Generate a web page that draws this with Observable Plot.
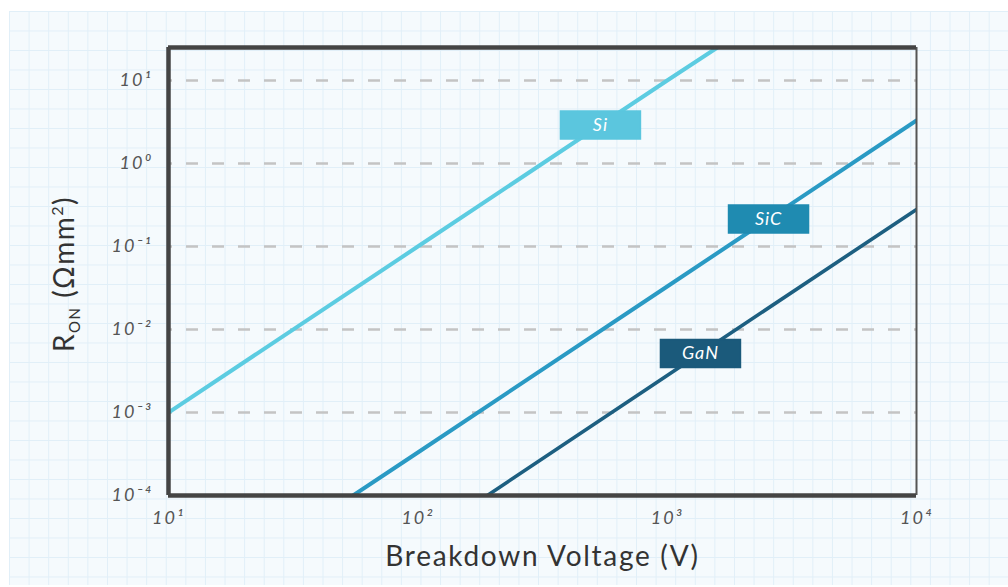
<!DOCTYPE html>
<html>
<head>
<meta charset="utf-8">
<script src="https://cdn.jsdelivr.net/npm/d3@7"></script>
<script src="https://cdn.jsdelivr.net/npm/@observablehq/plot@0.6"></script>
<style>
  html, body { margin: 0; padding: 0; background: #ffffff; width: 1008px; height: 587px; overflow: hidden; }
  #paper {
    position: absolute; left: 9px; top: 11px; width: 999px; height: 574px;
    background-color: #f5fafd;
    background-image:
      linear-gradient(to right, #e1eff8 1px, transparent 1px),
      linear-gradient(to bottom, #e1eff8 1px, transparent 1px);
    background-size: 19.6px 19.5px;
    background-position: 0 0;
  }
  #chart { position: absolute; left: 0; top: 0; }
</style>
</head>
<body>
<div id="paper"></div>
<div id="chart"></div>
<script>
// ---- data ----
const xTicks = [10, 100, 1000, 10000];
const yTicks = [1e-4, 1e-3, 1e-2, 1e-1, 1, 10];
const gridTicks = [1e-3, 1e-2, 1e-1, 1, 10];
const xDomain = [10, 10000];
const yDomain = [1e-4, 25];

const seriesNames = ["Si", "SiC", "GaN"];
const siV  = [10, 100, 1000, 1590];
const siR  = [1e-3, 0.1, 10, 25];
const sicV = [55, 100, 1000, 10000];
const sicR = [1e-4, 3.3e-4, 0.033, 3.3];
const ganV = [190, 1000, 10000];
const ganR = [1e-4, 2.8e-3, 0.28];

const labelV = [540, 2550, 1360];
const labelR = [2.92, 0.215, 5.15e-3];

const lineColors = ["#5ccce1", "#2a9ac4", "#1d5f81"];
const boxColors  = ["#5bc6de", "#1f8bb1", "#1b5a7b"];
const lineWidths = [4, 4, 3.6];

// ---- build rows ----
const seriesV = [siV, sicV, ganV];
const seriesR = [siR, sicR, ganR];
const rows = [];
seriesNames.forEach((s, i) => seriesV[i].forEach((v, j) => rows.push({series: s, v, r: seriesR[i][j]})));
const labels = seriesNames.map((s, i) => ({series: s, v: labelV[i], r: labelR[i], color: boxColors[i]}));

const sup = {"0":"⁰","1":"¹","2":"²","3":"³","4":"⁴","5":"⁵","-":"⁻"};
const pow10 = d => "10" + String(Math.round(Math.log10(d))).split("").map(c => sup[c]).join("");

// rectangle symbol for label boxes
const boxSymbol = { draw(ctx) { ctx.moveTo(-40, -14); ctx.lineTo(40, -14); ctx.lineTo(40, 14); ctx.lineTo(-40, 14); ctx.closePath(); } };

const font = "Lato, 'Open Sans', sans-serif";

const marks = [
  Plot.gridY(gridTicks, {stroke: "#c4c4c4", strokeOpacity: 1, strokeWidth: 2.6, strokeDasharray: "12,14", strokeDashoffset: -18}),
  ...seriesNames.map((s, i) => Plot.line(rows.filter(d => d.series === s), {
    x: "v", y: "r", stroke: lineColors[i], strokeWidth: lineWidths[i], clip: "frame", strokeLinecap: "round"
  })),
  Plot.ruleX([xDomain[1]], {stroke: "#555", strokeWidth: 2}),
  Plot.ruleX([xDomain[0]], {stroke: "#444", strokeWidth: 4.5}),
  Plot.ruleY([yDomain[0]], {stroke: "#444", strokeWidth: 4.5}),
  Plot.ruleY([yDomain[1]], {stroke: "#444", strokeWidth: 4.5}),
  Plot.dot(labels, {x: "v", y: "r", symbol: boxSymbol, fill: "color", stroke: "color", strokeWidth: 1.5, r: 10}),
  Plot.text(labels, {x: "v", y: "r", text: "series", fill: "white", fontSize: 18, fontStyle: "italic"}),
  // tick labels
  Plot.text(xTicks, {x: d => d, frameAnchor: "bottom", dy: 28, text: pow10, fontSize: 18, fontStyle: "italic", fill: "#555"}),
  Plot.text(yTicks, {y: d => d, frameAnchor: "left", dx: -16, textAnchor: "end", text: pow10, fontSize: 18, fontStyle: "italic", fill: "#555"}),
  Plot.text(["Breakdown Voltage (V)"], {frameAnchor: "bottom", dy: 70, text: d => d, fontSize: 28, fill: "#333"})
];

const plot = Plot.plot({
  width: 1008,
  height: 587,
  marginLeft: 168,
  marginRight: 92,
  marginTop: 47,
  marginBottom: 92,
  x: {type: "log", domain: xDomain, axis: null},
  y: {type: "log", domain: yDomain, axis: null},
  color: {type: "identity"},
  style: {background: "transparent", fontFamily: font, color: "#555"},
  marks
});

// letter spacing for the hand-lettered look
const textGroups = plot.querySelectorAll('g[aria-label="text"]');
const spacings = ["1px", "2px", "2px", "1.7px"];
textGroups.forEach((g, i) => { if (spacings[i]) g.style.letterSpacing = spacings[i]; });

// y-axis title with subscript / superscript
const ns = "http://www.w3.org/2000/svg";
const t = document.createElementNS(ns, "text");
t.setAttribute("transform", "translate(74,274) rotate(-90)");
t.setAttribute("text-anchor", "middle");
t.setAttribute("font-size", "28");
t.setAttribute("fill", "#333");
t.setAttribute("letter-spacing", "1.5");
t.setAttribute("font-family", font);
const parts = [
  {txt: "R", dy: 0, size: 28},
  {txt: "ON", dy: 6, size: 15},
  {txt: " (Ωmm", dy: -6, size: 28},
  {txt: "2", dy: -11, size: 16},
  {txt: ")", dy: 11, size: 28}
];
parts.forEach(p => {
  const s = document.createElementNS(ns, "tspan");
  s.textContent = p.txt;
  s.setAttribute("dy", p.dy);
  s.setAttribute("font-size", p.size);
  t.appendChild(s);
});
plot.appendChild(t);

document.getElementById("chart").appendChild(plot);
</script>
</body>
</html>
